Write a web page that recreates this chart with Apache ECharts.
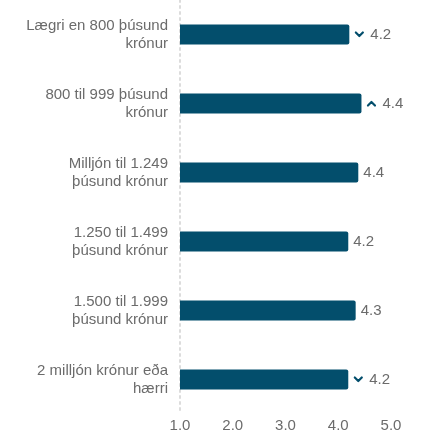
<!DOCTYPE html>
<html><head><meta charset="utf-8">
<script src="https://cdn.jsdelivr.net/npm/echarts@6/dist/echarts.min.js"></script>
<style>html,body{margin:0;padding:0;background:#fff;overflow:hidden;width:422px;height:436px}#c{width:422px;height:436px}</style>
</head><body><div id="c"></div>
<script>
const categories = [
  'Lægri en 800 þúsund\nkrónur',
  '800 til 999 þúsund\nkrónur',
  'Milljón til 1.249\nþúsund krónur',
  '1.250 til 1.499\nþúsund krónur',
  '1.500 til 1.999\nþúsund krónur',
  '2 milljón krónur eða\nhærri'
];
const values = [4.21, 4.44, 4.38, 4.19, 4.33, 4.19];
const trends = ['down', 'up', '', '', '', 'down'];
const xTicks = [1, 2, 3, 4, 5];

const col = '#034e6c';
function svg(path){
  return 'data:image/svg+xml;charset=utf-8,' + encodeURIComponent(
    '<svg xmlns="http://www.w3.org/2000/svg" width="10" height="7" viewBox="0 0 10 7"><path d="' + path + '" fill="none" stroke="' + col + '" stroke-width="2.2" stroke-linecap="round" stroke-linejoin="round"/></svg>');
}
const downImg = svg('M1.5 1.5 L5 5 L8.5 1.5');
const upImg = svg('M1.5 5.5 L5 2 L8.5 5.5');

const chart = echarts.init(document.getElementById('c'), null, {renderer: 'canvas', width: 422, height: 436, devicePixelRatio: 1});
chart.setOption({
  animation: false,
  grid: {left: 180, right: 31, top: -15, bottom: 22, containLabel: false},
  xAxis: {
    type: 'value', min: xTicks[0], max: xTicks[xTicks.length - 1], interval: 1,
    axisLine: {show: false}, axisTick: {show: false}, splitLine: {show: false},
    axisLabel: {color: '#6b6b6b', fontSize: 15, fontFamily: 'Liberation Sans', margin: 4,
      formatter: v => v.toFixed(1)}
  },
  yAxis: {
    type: 'category', data: categories, inverse: true,
    axisLine: {show: true, lineStyle: {color: '#dcdcdc', width: 2, type: [2, 4]}},
    axisTick: {show: false},
    axisLabel: {color: '#6b6b6b', fontSize: 15, fontFamily: 'Liberation Sans', margin: 12,
      lineHeight: 18, align: 'right'}
  },
  series: [{
    type: 'bar', barWidth: 20,
    data: values,
    itemStyle: {color: col, borderRadius: [0, 2, 2, 0]},
    label: {
      show: true, position: 'right', distance: 5,
      fontFamily: 'Liberation Sans', fontSize: 15, color: '#6b6b6b',
      formatter: p => {
        const t = trends[p.dataIndex];
        const s = p.value.toFixed(1);
        if (t === 'down') return '{dn|}{v|' + s + '}';
        if (t === 'up') return '{up|}{v|' + s + '}';
        return '{w|' + s + '}';
      },
      rich: {
        v: {fontFamily: 'Liberation Sans', fontSize: 15, color: '#6b6b6b', padding: [0, 0, 0, 6]},
        w: {fontFamily: 'Liberation Sans', fontSize: 15, color: '#6b6b6b'},
        dn: {width: 10, height: 7, backgroundColor: {image: downImg}},
        up: {width: 10, height: 7, backgroundColor: {image: upImg}}
      }
    }
  }]
});
</script></body></html>
